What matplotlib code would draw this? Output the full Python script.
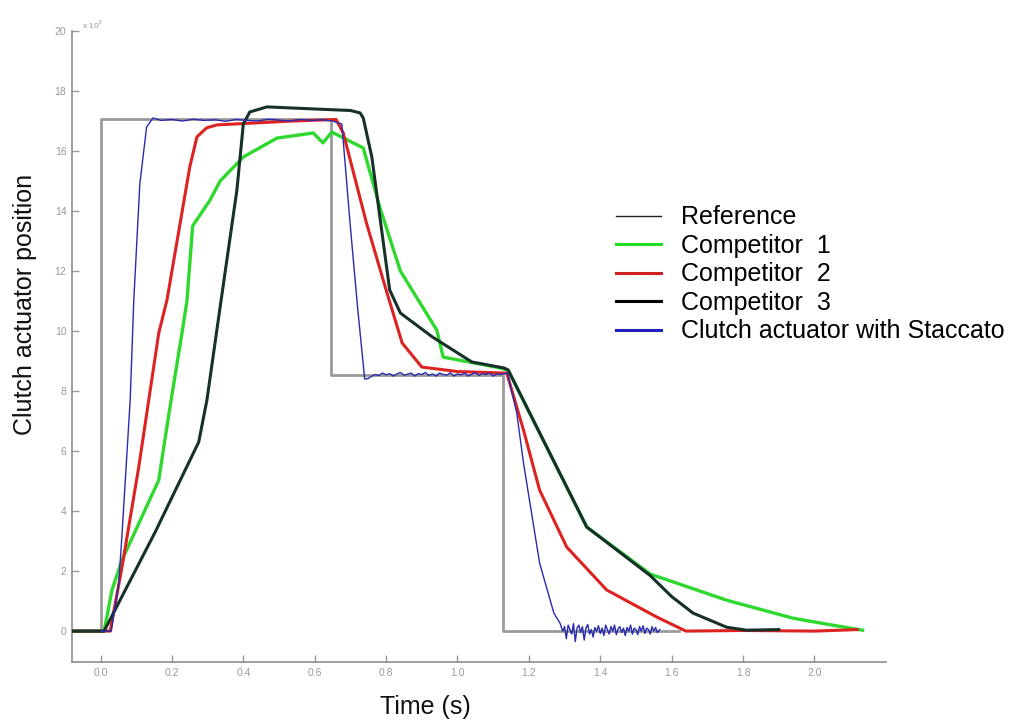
import matplotlib
matplotlib.use("Agg")
import matplotlib.pyplot as plt
from matplotlib.lines import Line2D

# ---------------- data ----------------
ref_t = [-0.08, 0.0, 0.0, 0.645, 0.645, 1.127, 1.127, 1.62]
ref_y = [0, 0, 17.05, 17.05, 8.55, 8.55, 0, 0]

comp1_t = [-0.08, 0.01, 0.032, 0.06, 0.163, 0.19, 0.228, 0.242, 0.258, 0.307, 0.335, 0.40,
           0.494, 0.596, 0.623, 0.648, 0.736, 0.783, 0.84, 0.942, 0.96, 1.12, 1.142,
           1.362, 1.54, 1.754, 1.94, 2.05, 2.135]
comp1_y = [0, 0, 1.37, 2.37, 5.03, 7.13, 9.93, 11.0, 13.5, 14.37, 15.0, 15.8,
           16.43, 16.6, 16.27, 16.63, 16.1, 14.1, 12.0, 10.03, 9.13, 8.77, 8.7,
           3.47, 1.9, 1.03, 0.43, 0.2, 0.03]

comp2_t = [-0.08, 0.027, 0.06, 0.107, 0.163, 0.186, 0.25, 0.27, 0.297, 0.326, 0.54, 0.66,
           0.68, 0.745, 0.80, 0.845, 0.90, 1.0, 1.13, 1.138, 1.185, 1.23, 1.306, 1.418,
           1.558, 1.64, 1.8, 2.0, 2.12]
comp2_y = [0, 0, 2.13, 5.47, 9.93, 11.03, 15.47, 16.47, 16.77, 16.87, 17.0, 17.05,
           16.6, 13.6, 11.37, 9.6, 8.8, 8.65, 8.6, 8.6, 6.7, 4.7, 2.8, 1.37,
           0.47, 0.0, 0.02, 0.0, 0.05]

comp3_t = [-0.08, 0.01, 0.153, 0.275, 0.298, 0.335, 0.382, 0.40, 0.418, 0.466, 0.60, 0.70,
           0.727, 0.736, 0.76, 0.81, 0.84, 0.93, 1.04, 1.13, 1.142, 1.362, 1.54, 1.60,
           1.66, 1.754, 1.81, 1.9]
comp3_y = [0, 0, 3.3, 6.3, 7.7, 10.8, 14.7, 16.9, 17.3, 17.47, 17.4, 17.35,
           17.27, 17.1, 15.8, 11.37, 10.6, 9.8, 8.97, 8.77, 8.7, 3.47, 1.85, 1.15,
           0.6, 0.13, 0.03, 0.05]

stac_t = [0.0, 0.03, 0.051, 0.06, 0.083, 0.093, 0.11, 0.129, 0.147,
          0.17, 0.20, 0.23, 0.26, 0.29, 0.32, 0.35, 0.38, 0.41, 0.44, 0.47, 0.50, 0.53,
          0.56, 0.59, 0.62, 0.65, 0.662,
          0.676, 0.699, 0.72, 0.74,
          0.75, 0.76, 0.77, 0.78, 0.79, 0.80, 0.81, 0.82, 0.83, 0.84, 0.85, 0.86, 0.87,
          0.88, 0.89, 0.90, 0.91, 0.92, 0.93, 0.94, 0.95, 0.96, 0.97, 0.98, 0.99, 1.00,
          1.01, 1.02, 1.03, 1.04, 1.05, 1.06, 1.07, 1.08, 1.09, 1.10, 1.11, 1.12, 1.13,
          1.14, 1.166, 1.185, 1.23, 1.27, 1.287, 1.295,
          1.30, 1.305, 1.31, 1.315, 1.32, 1.325, 1.33, 1.335, 1.34, 1.345, 1.35, 1.355,
          1.36, 1.365, 1.37, 1.375, 1.38, 1.385, 1.39, 1.395, 1.40, 1.405, 1.41, 1.415,
          1.42, 1.425, 1.43, 1.435, 1.44, 1.445, 1.45, 1.455, 1.46, 1.465, 1.47, 1.475,
          1.48, 1.485, 1.49, 1.495, 1.50, 1.505, 1.51, 1.515, 1.52, 1.525, 1.53, 1.535,
          1.54, 1.545, 1.55, 1.555, 1.56, 1.567]
stac_y = [0, 0, 1.6, 3.2, 7.7, 11.0, 14.9, 16.8, 17.1,
          17.02, 17.05, 17.0, 17.06, 17.02, 17.04, 16.99, 17.05, 17.02, 17.0, 17.06, 17.03, 17.0,
          17.05, 17.02, 17.04, 17.0, 16.95,
          16.9, 13.6, 10.8, 8.4,
          8.42, 8.5, 8.55, 8.52, 8.6, 8.54, 8.58, 8.5, 8.57, 8.62, 8.53, 8.56, 8.6,
          8.5, 8.58, 8.55, 8.62, 8.52, 8.57, 8.5, 8.6, 8.55, 8.53, 8.61, 8.5, 8.57,
          8.54, 8.6, 8.5, 8.56, 8.62, 8.52, 8.58, 8.55, 8.6, 8.5, 8.57, 8.55, 8.58,
          8.6, 7.27, 5.6, 2.27, 0.6, 0.27, 0.0,
          0.15, -0.25, 0.2, 0.05, -0.1, 0.25, -0.35, 0.1, 0.2, -0.05, 0.15, -0.3,
          0.1, 0.22, -0.1, 0.05, -0.2, 0.12, 0.0, 0.18, -0.08, 0.1, -0.15, 0.2,
          0.05, -0.1, 0.15, 0.0, 0.2, -0.12, 0.08, 0.15, -0.05, 0.1, -0.15, 0.12,
          0.0, 0.2, -0.1, 0.1, 0.05, -0.12, 0.15, 0.0, 0.18, -0.08, 0.1, 0.05,
          -0.1, 0.15, 0.0, 0.12, -0.05, 0.05]

labels = ["Reference", "Competitor  1", "Competitor  2", "Competitor  3",
          "Clutch actuator with Staccato"]

x_ticks = [0.0, 0.2, 0.4, 0.6, 0.8, 1.0, 1.2, 1.4, 1.6, 1.8, 2.0]
y_ticks = [0, 2, 4, 6, 8, 10, 12, 14, 16, 18, 20]

# ---------------- plot ----------------
plt.rcParams['font.family'] = ['Liberation Sans', 'DejaVu Sans']
fig = plt.figure(figsize=(10.17, 7.22), dpi=100)
ax = fig.add_axes([0.0708, 0.0831, 0.8002, 0.874])

ax.plot(ref_t, ref_y, color='#9a9a9a', lw=2.0, zorder=1)
ax.plot(comp1_t, comp1_y, color='#2ed82e', lw=2.4, zorder=2)
ax.plot(comp2_t, comp2_y, color='#dd2222', lw=2.2, zorder=3)
ax.plot(comp3_t, comp3_y, color='#16302a', lw=2.2, zorder=4)
ax.plot(stac_t, stac_y, color='#2a2ab0', lw=1.0, zorder=5)

ax.set_xlim(-0.08, 2.2)
ax.set_ylim(-1.03, 20)
ax.set_xticks(x_ticks)
ax.set_xticklabels([f"{v:.1f}" for v in x_ticks])
ax.set_yticks(y_ticks)
ax.set_yticklabels([str(v) for v in y_ticks])
ax.tick_params(direction='in', length=5, width=1, colors='#999999',
               labelsize=7.5, pad=4)
for s in ['top', 'right']:
    ax.spines[s].set_visible(False)
for s in ['left', 'bottom']:
    ax.spines[s].set_color('#8c8c8c')
    ax.spines[s].set_linewidth(1.2)

ax.text(0.012, 1.0, r'x 10$^{3}$', transform=ax.transAxes, fontsize=6,
        color='#999999', va='bottom', ha='left')

handles = [Line2D([], [], color='#222222', lw=1.0),
           Line2D([], [], color='#22dd22', lw=2.2),
           Line2D([], [], color='#cc2222', lw=2.2),
           Line2D([], [], color='#000000', lw=2.2),
           Line2D([], [], color='#2020c0', lw=2.2)]
fig.legend(handles, labels, loc='upper left', bbox_to_anchor=(0.5955, 0.7295),
           frameon=False, fontsize=18, handlelength=1.8, handletextpad=0.8,
           labelspacing=0.18, borderaxespad=0)

fig.text(25 / 1017, 1 - 304 / 722, 'Clutch actuator position', rotation=90,
         fontsize=18, ha='center', va='center', color='#111111')
fig.text(425 / 1017, 1 - 707 / 722, 'Time (s)', fontsize=18,
         ha='center', va='center', color='#111111')

fig.savefig('out.png', dpi=100)
